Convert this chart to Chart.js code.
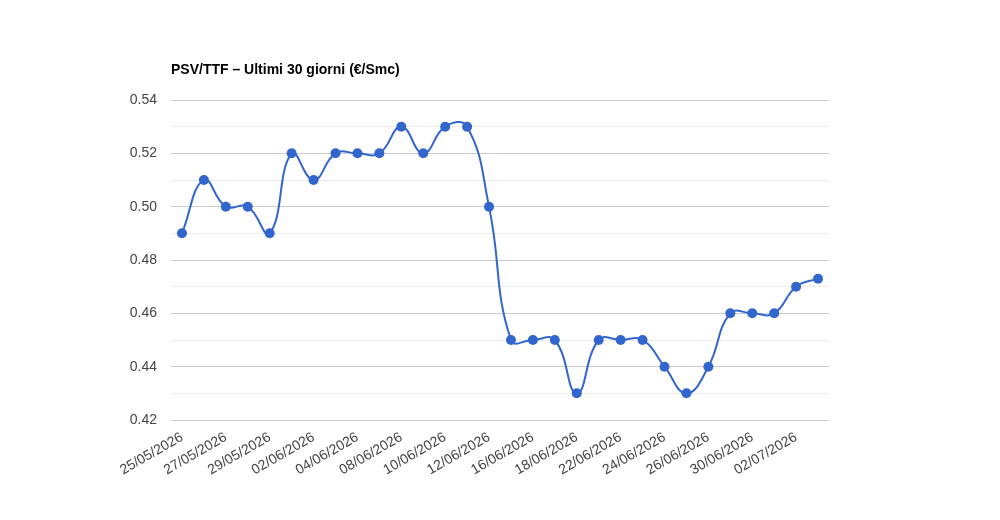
<!DOCTYPE html>
<html>
<head>
<meta charset="utf-8">
<script src="https://cdn.jsdelivr.net/npm/chart.js@4"></script>
<style>
  html, body { margin: 0; padding: 0; background: #fff; }
  #wrap { width: 1000px; height: 520px; }
</style>
</head>
<body>
<div id="wrap"><canvas id="chart" width="1000" height="520"></canvas></div>
<script>
// Dates (trading days only)
const dates = [
    '25/05/2026', '26/05/2026', '27/05/2026', '28/05/2026', '29/05/2026',
    '01/06/2026', '02/06/2026', '03/06/2026', '04/06/2026', '05/06/2026',
    '08/06/2026', '09/06/2026', '10/06/2026', '11/06/2026', '12/06/2026',
    '15/06/2026', '16/06/2026', '17/06/2026', '18/06/2026', '19/06/2026',
    '22/06/2026', '23/06/2026', '24/06/2026', '25/06/2026', '26/06/2026',
    '29/06/2026', '30/06/2026', '01/07/2026', '02/07/2026', '03/07/2026'
];
// PSV/TTF values (€/Smc)
const prices = [
    0.49, 0.51, 0.50, 0.50, 0.49,
    0.52, 0.51, 0.52, 0.52, 0.52,
    0.53, 0.52, 0.53, 0.53, 0.50,
    0.45, 0.45, 0.45, 0.43, 0.45,
    0.45, 0.45, 0.44, 0.43, 0.44,
    0.46, 0.46, 0.46, 0.47, 0.473
];
const yMin = 0.42;
const yMax = 0.54;

const FONT = "Arial, 'Liberation Sans', sans-serif";

// draws the title left-aligned above the plot area
const titlePlugin = {
    id: 'leftTitle',
    afterDraw(chart) {
        const { ctx, chartArea } = chart;
        ctx.save();
        ctx.font = 'bold 14px ' + FONT;
        ctx.fillStyle = '#000';
        ctx.textBaseline = 'middle';
        ctx.fillText('PSV/TTF – Ultimi 30 giorni (€/Smc)', chartArea.left, 70);
        ctx.restore();
    }
};

new Chart(document.getElementById('chart'), {
    type: 'line',
    data: {
        labels: dates,
        datasets: [{
            data: prices,
            borderColor: '#3366cc',
            backgroundColor: '#3366cc',
            borderWidth: 2,
            tension: 0.45,
            pointRadius: 5,
            pointHoverRadius: 5,
            pointBackgroundColor: '#3366cc',
            pointBorderWidth: 0,
            clip: false
        }]
    },
    options: {
        responsive: false,
        animation: false,
        layout: { padding: { left: 0, right: 171, top: 100, bottom: 0 } },
        plugins: {
            legend: { display: false },
            tooltip: { enabled: false }
        },
        scales: {
            x: {
                offset: true,
                grid: { display: false, drawTicks: false },
                border: { display: false },
                ticks: {
                    autoSkip: false,
                    minRotation: 30,
                    maxRotation: 30,
                    padding: 9,
                    color: '#444',
                    font: { family: FONT, size: 14 },
                    callback: (v, i) => (i % 2 === 0 ? dates[i] : '')
                },
                afterFit: (s) => { s.height = 100; }
            },
            y: {
                min: yMin,
                max: yMax,
                grid: {
                    drawTicks: false,
                    color: (c) => (Math.round(c.tick.value * 100) % 2 === 0 ? '#cccccc' : '#ebebeb')
                },
                border: { display: false },
                ticks: {
                    stepSize: 0.01,
                    padding: 14,
                    color: '#444',
                    font: { family: FONT, size: 14 },
                    callback: (v) => (Math.round(v * 100) % 2 === 0 ? v.toFixed(2) : '')
                },
                afterFit: (s) => { s.width = 171; }
            }
        }
    },
    plugins: [titlePlugin]
});
</script>
</body>
</html>
